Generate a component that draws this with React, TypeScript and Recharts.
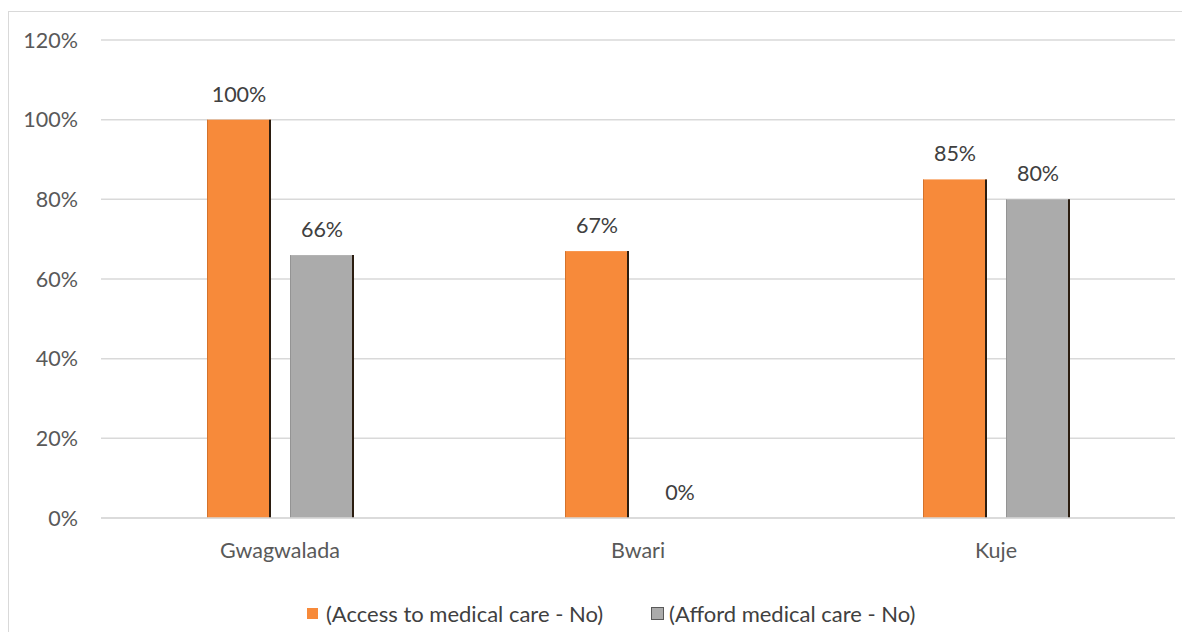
import { BarChart, Bar, XAxis, YAxis, CartesianGrid, LabelList, Legend } from 'recharts'

const districts = ['Gwagwalada', 'Bwari', 'Kuje']
const accessNo = [100, 67, 85]
const affordNo = [66, 0, 80]
const yTicks = [0, 20, 40, 60, 80, 100, 120]

const ACCESS = '(Access to medical care - No)'
const AFFORD = '(Afford medical care - No)'

const data = districts.map((d, i) => ({
  name: d,
  access: accessNo[i],
  afford: affordNo[i],
}))

const FONT = 'Lato, "Open Sans", sans-serif'
const FS = 21.5

function EdgeBar(props: any) {
  const { x, y, width, height, fill, edge } = props
  if (!height || height <= 0) return null
  return (
    <g>
      <rect x={x} y={y} width={width} height={height} fill={fill} />
      <line x1={x + 0.5} y1={y} x2={x + 0.5} y2={y + height} stroke={edge} strokeOpacity={0.45} strokeWidth={1} />
      <line x1={x + width - 1} y1={y} x2={x + width - 1} y2={y + height} stroke="#2b1d10" strokeWidth={2} />
    </g>
  )
}

function LegendBox() {
  return (
    <div style={{ display: 'flex', alignItems: 'center', fontFamily: FONT, fontSize: 22, color: '#404040', height: 24, paddingLeft: 298, whiteSpace: 'nowrap' }}>
      <span style={{ display: 'inline-block', width: 11, height: 11, background: '#F78A3A', marginRight: 8 }} />
      <span>{ACCESS}</span>
      <span style={{ display: 'inline-block', width: 13, height: 13, background: '#ABABAB', border: '1px solid #595959', boxSizing: 'border-box', marginLeft: 48, marginRight: 5 }} />
      <span>{AFFORD}</span>
    </div>
  )
}

export default function App() {
  return (
    <div style={{ marginTop: 3, width: 1200, height: 640, border: '1px solid #d9d9d9', background: '#fff' }}>
      <BarChart
        width={1190}
        height={630}
        data={data}
        margin={{ top: 28, right: 24, left: 0, bottom: 17 }}
        barSize={64}
        barGap={19}
      >
        <CartesianGrid vertical={false} stroke="#d9d9d9" strokeWidth={1.5} />
        <XAxis
          dataKey="name"
          height={83}
          tickLine={false}
          axisLine={{ stroke: '#d9d9d9', strokeWidth: 1.5 }}
          tickMargin={19}
          tick={{ fontFamily: FONT, fontSize: FS, fill: '#595959' }}
        />
        <YAxis
          width={92}
          domain={[0, 120]}
          ticks={yTicks}
          interval={0}
          tickLine={false}
          axisLine={false}
          tickSize={0}
          tickMargin={23}
          tickFormatter={(v: number) => `${v}%`}
          tick={{ fontFamily: FONT, fontSize: FS, fill: '#595959' }}
        />
        <Legend verticalAlign="bottom" content={() => <LegendBox />} />
        <Bar dataKey="access" name={ACCESS} fill="#F78A3A" isAnimationActive={false} shape={(p: any) => <EdgeBar {...p} edge="#a8561c" />}>
          <LabelList dataKey="access" position="top" offset={18} formatter={(v: any) => `${v}%`} style={{ fontFamily: FONT, fontSize: FS, fill: '#404040' }} />
        </Bar>
        <Bar dataKey="afford" name={AFFORD} fill="#ABABAB" isAnimationActive={false} shape={(p: any) => <EdgeBar {...p} edge="#777777" />}>
          <LabelList dataKey="afford" position="top" offset={18} formatter={(v: any) => `${v}%`} style={{ fontFamily: FONT, fontSize: FS, fill: '#404040' }} />
        </Bar>
      </BarChart>
    </div>
  )
}
